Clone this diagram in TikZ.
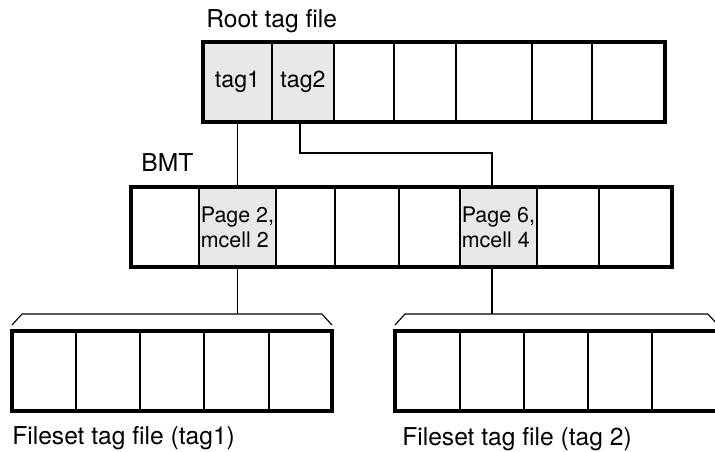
\documentclass[tikz,border=0pt]{standalone}
\usepackage{fontspec}
\setmainfont{TeX Gyre Heros}
\usepackage{tikz}
\usetikzlibrary{positioning}
\definecolor{tagfill}{RGB}{232,232,232}
\tikzset{
  cell/.style={draw, line width=0.8pt, outer sep=0pt, inner sep=0pt, minimum height=1.6cm, anchor=west, align=left},
  used/.style={fill=tagfill},
  frame/.style={line width=2pt},
  link/.style={line width=0.65pt},
  lbl/.style={anchor=base west, inner sep=0pt, font=\fontsize{14}{16}\selectfont}
}

\begin{document}
\begin{tikzpicture}[x=0.02cm, y=-0.02cm, font=\fontsize{13.2}{14.4}\selectfont]
\useasboundingbox (0,0) rectangle (715,451);
\clip (0,0) rectangle (715,451);

% root tag file
\node[lbl] (rootlbl) at (206,27) {Root tag file};
\node[cell, used, minimum width=1.38cm] (r1) at (203,82) {tag1};
\node[cell, used, minimum width=1.24cm, right=0pt of r1] (r2) {tag2};
\node[cell, minimum width=1.20cm, right=0pt of r2] (r3) {};
\node[cell, minimum width=1.24cm, right=0pt of r3] (r4) {};
\node[cell, minimum width=1.52cm, right=0pt of r4] (r5) {};
\node[cell, minimum width=1.20cm, right=0pt of r5] (r6) {};
\node[cell, minimum width=1.46cm, right=0pt of r6] (r7) {};
\draw[frame] (r1.north west) rectangle (r7.south east);

% BMT
\node[lbl] (bmtlbl) at (141,171) {BMT};
\node[cell, minimum width=1.36cm] (b1) at (131,227) {};
\node[cell, used, minimum width=1.54cm, right=0pt of b1, font=\fontsize{12.2}{14.2}\selectfont] (b2) {Page 2,\\mcell 2};
\node[cell, minimum width=1.18cm, right=0pt of b2] (b3) {};
\node[cell, minimum width=1.28cm, right=0pt of b3] (b4) {};
\node[cell, minimum width=1.22cm, right=0pt of b4] (b5) {};
\node[cell, used, minimum width=1.54cm, right=0pt of b5, font=\fontsize{12.2}{14.2}\selectfont] (b6) {Page 6,\\mcell 4};
\node[cell, minimum width=1.24cm, right=0pt of b6] (b7) {};
\node[cell, minimum width=1.46cm, right=0pt of b7] (b8) {};
\draw[frame] (b1.north west) rectangle (b8.south east);

% fileset tag file, tag1
\node[cell, minimum width=1.28cm] (f1) at (12,371) {};
\node[cell, minimum width=1.28cm, right=0pt of f1] (f2) {};
\node[cell, minimum width=1.28cm, right=0pt of f2] (f3) {};
\node[cell, minimum width=1.30cm, right=0pt of f3] (f4) {};
\node[cell, minimum width=1.26cm, right=0pt of f4] (f5) {};
\draw[frame] (f1.north west) rectangle (f5.south east);
\draw[link] ([yshift=0.12cm]f1.north west) -- ++(10,-11) coordinate (lid1)
  -- ([xshift=-0.2cm, yshift=0.34cm]f5.north east) -- ([yshift=0.12cm]f5.north east);
\node[lbl] (f1lbl) at (12,444) {Fileset tag file (tag1)};

% fileset tag file, tag 2
\node[cell, minimum width=1.30cm] (g1) at (395,371) {};
\node[cell, minimum width=1.28cm, right=0pt of g1] (g2) {};
\node[cell, minimum width=1.28cm, right=0pt of g2] (g3) {};
\node[cell, minimum width=1.28cm, right=0pt of g3] (g4) {};
\node[cell, minimum width=1.32cm, right=0pt of g4] (g5) {};
\draw[frame] (g1.north west) rectangle (g5.south east);
\draw[link] ([yshift=0.12cm]g1.north west) -- ++(10,-11) coordinate (lid2)
  -- ([xshift=-0.2cm, yshift=0.34cm]g5.north east) -- ([yshift=0.12cm]g5.north east);
\node[lbl] (g1lbl) at (402,445) {Fileset tag file (tag 2)};

% links between the files
\draw[link] (r1.south) -- (r1.south |- b2.north);
\draw[link] ([xshift=-0.06cm]r2.south) -- ++(0,31) -| ([xshift=-0.13cm]b6.north);
\draw[link] (b2.south) -- (b2.south |- lid1);
\coordinate (d6) at ([xshift=-0.13cm]b6.south);
\draw[link] (d6) -- (d6 |- lid2);
\end{tikzpicture}
\end{document}
